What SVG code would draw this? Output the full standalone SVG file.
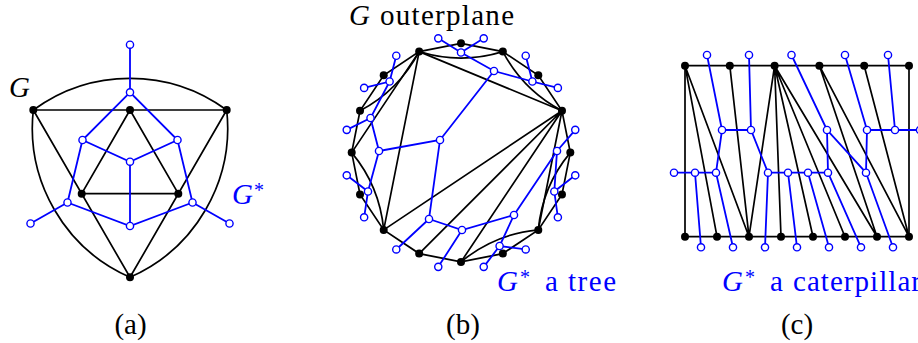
<svg xmlns="http://www.w3.org/2000/svg" width="918" height="343" viewBox="0 0 918 343">
<style>
.e{stroke:#000;stroke-width:1.7;fill:none;stroke-linecap:round}
.d{stroke:#00f;stroke-width:1.8;fill:none;stroke-linecap:round}
.bv{fill:#000}
.wv{fill:#fff;stroke:#00f;stroke-width:1.4}
.t{font-family:"Liberation Serif","Times New Roman",serif;font-size:29px;fill:#000}
.i{font-style:italic}
.b{fill:#00f}
.s{font-size:20px}
</style>
<rect width="918" height="343" fill="#fff"/>

<!-- ===== Panel (a) ===== -->
<g id="a-edges">
<path class="e" d="M33.3 110 A163.3 163.3 0 0 1 226.7 110 A163.3 163.3 0 0 1 130 277.3 A163.3 163.3 0 0 1 33.3 110 Z"/>
<path class="e" d="M33.3 110 H226.7 M33.3 110 L130 277.3 L226.7 110 M130 110 L81.7 193.7 H178.3 Z"/>
<path class="d" d="M130 44.7 V92.3 M130 92.3 L82.5 140 L130 161.7 L177.5 140 Z M130 161.7 V226 M82.5 140 L67.5 202.5 L130 226 L192.5 202.5 L177.5 140 M67.5 202.5 L30.5 223.5 M192.5 202.5 L229.5 223.5"/>
</g>
<g id="a-TL"><circle class="bv" cx="33.3" cy="110" r="4"/></g>
<g id="a-TM"><circle class="bv" cx="130" cy="110" r="4"/></g>
<g id="a-TR"><circle class="bv" cx="226.7" cy="110" r="4"/></g>
<g id="a-IL"><circle class="bv" cx="81.7" cy="193.7" r="4"/></g>
<g id="a-IR"><circle class="bv" cx="178.3" cy="193.7" r="4"/></g>
<g id="a-B"><circle class="bv" cx="130" cy="277.3" r="4"/></g>
<g id="a-d0"><circle class="wv" cx="130" cy="44.7" r="3.6"/></g>
<g id="a-d1"><circle class="wv" cx="130" cy="92.3" r="3.6"/></g>
<g id="a-d2"><circle class="wv" cx="82.5" cy="140" r="3.6"/></g>
<g id="a-d3"><circle class="wv" cx="177.5" cy="140" r="3.6"/></g>
<g id="a-d4"><circle class="wv" cx="130" cy="161.7" r="3.6"/></g>
<g id="a-d5"><circle class="wv" cx="67.5" cy="202.5" r="3.6"/></g>
<g id="a-d6"><circle class="wv" cx="192.5" cy="202.5" r="3.6"/></g>
<g id="a-d7"><circle class="wv" cx="130" cy="226" r="3.6"/></g>
<g id="a-d8"><circle class="wv" cx="30.5" cy="223.5" r="3.6"/></g>
<g id="a-d9"><circle class="wv" cx="229.5" cy="223.5" r="3.6"/></g>
<text class="t i" x="9" y="97">G</text>
<text class="t b" x="232" y="204"><tspan class="i">G</tspan></text>
<text class="t b s" x="254" y="197">*</text>
<text class="t" x="130.5" y="334" text-anchor="middle">(a)</text>

<!-- ===== Panel (b) ===== -->
<g id="b-edges">
<polygon class="e" points="461,43.3 502.83,51.62 538.29,75.31 561.98,110.77 570.3,152.6 561.98,194.43 538.29,229.89 502.83,253.58 461,261.9 419.17,253.58 383.71,229.89 360.02,194.43 351.7,152.6 360.02,110.77 383.71,75.31 419.17,51.62"/>
<path class="e" d="M419.17 51.62 L561.98 110.77 M561.98 110.77 L383.71 229.89 M419.17 51.62 L383.71 229.89 M561.98 110.77 L419.17 253.58 M561.98 110.77 L461 261.9 M561.98 110.77 L538.29 229.89 M419.17 51.62 L351.7 152.6"/>
<path class="e" d="M419.17 51.62 Q461 64.6 502.83 51.62 M502.83 51.62 Q523.23 90.37 561.98 110.77 M570.3 152.6 Q542.3 186.28 538.29 229.89 M538.29 229.89 Q494.68 233.9 461 261.9 M383.71 229.89 Q379.7 186.28 351.7 152.6 M360.02 110.77 Q398.77 90.37 419.17 51.62"/>
<path class="d" d="M461 52.5 L494 71 L532.4 81.5 M494 71 L440 140 L379 151 M440 140 L429 219 L462 230 L514 215 L499.6 246 M514 215 L557 151 L554.3 191.5 M379 151 L370.5 118 L389.6 81.5 M379 151 L368 191.5"/>
<path class="d" d="M438.27 38.34 L461 52.5 L483.73 38.34 M525.72 55.73 L532.4 81.5 L557.87 87.88 M575.26 129.87 L557 151 M575.26 175.33 L554.3 191.5 L557.87 217.32 M525.72 249.47 L499.6 246 L483.73 266.86 M438.27 266.86 L462 230 M396.28 249.47 L429 219 M364.13 217.32 L368 191.5 L346.74 175.33 M346.74 129.87 L370.5 118 M364.13 87.88 L389.6 81.5 L396.28 55.73"/>
</g>
<g id="b-v1"><circle class="bv" cx="461" cy="43.3" r="4"/></g>
<g id="b-v2"><circle class="bv" cx="502.83" cy="51.62" r="4"/></g>
<g id="b-v3"><circle class="bv" cx="538.29" cy="75.31" r="4"/></g>
<g id="b-v4"><circle class="bv" cx="561.98" cy="110.77" r="4"/></g>
<g id="b-v5"><circle class="bv" cx="570.3" cy="152.6" r="4"/></g>
<g id="b-v6"><circle class="bv" cx="561.98" cy="194.43" r="4"/></g>
<g id="b-v7"><circle class="bv" cx="538.29" cy="229.89" r="4"/></g>
<g id="b-v8"><circle class="bv" cx="502.83" cy="253.58" r="4"/></g>
<g id="b-v9"><circle class="bv" cx="461" cy="261.9" r="4"/></g>
<g id="b-v10"><circle class="bv" cx="419.17" cy="253.58" r="4"/></g>
<g id="b-v11"><circle class="bv" cx="383.71" cy="229.89" r="4"/></g>
<g id="b-v12"><circle class="bv" cx="360.02" cy="194.43" r="4"/></g>
<g id="b-v13"><circle class="bv" cx="351.7" cy="152.6" r="4"/></g>
<g id="b-v14"><circle class="bv" cx="360.02" cy="110.77" r="4"/></g>
<g id="b-v15"><circle class="bv" cx="383.71" cy="75.31" r="4"/></g>
<g id="b-v16"><circle class="bv" cx="419.17" cy="51.62" r="4"/></g>
<g id="b-fA"><circle class="wv" cx="461" cy="52.5" r="3.6"/></g>
<g id="b-fB"><circle class="wv" cx="494" cy="71" r="3.6"/></g>
<g id="b-fC"><circle class="wv" cx="532.4" cy="81.5" r="3.6"/></g>
<g id="b-fD"><circle class="wv" cx="557" cy="151" r="3.6"/></g>
<g id="b-fE"><circle class="wv" cx="554.3" cy="191.5" r="3.6"/></g>
<g id="b-fF"><circle class="wv" cx="514" cy="215" r="3.6"/></g>
<g id="b-fG"><circle class="wv" cx="499.6" cy="246" r="3.6"/></g>
<g id="b-fH"><circle class="wv" cx="462" cy="230" r="3.6"/></g>
<g id="b-fI"><circle class="wv" cx="429" cy="219" r="3.6"/></g>
<g id="b-fJ"><circle class="wv" cx="440" cy="140" r="3.6"/></g>
<g id="b-fK"><circle class="wv" cx="379" cy="151" r="3.6"/></g>
<g id="b-fL"><circle class="wv" cx="368" cy="191.5" r="3.6"/></g>
<g id="b-fM"><circle class="wv" cx="370.5" cy="118" r="3.6"/></g>
<g id="b-fN"><circle class="wv" cx="389.6" cy="81.5" r="3.6"/></g>
<g id="b-l1"><circle class="wv" cx="438.27" cy="38.34" r="3.6"/></g>
<g id="b-l2"><circle class="wv" cx="483.73" cy="38.34" r="3.6"/></g>
<g id="b-l3"><circle class="wv" cx="525.72" cy="55.73" r="3.6"/></g>
<g id="b-l4"><circle class="wv" cx="557.87" cy="87.88" r="3.6"/></g>
<g id="b-l5"><circle class="wv" cx="575.26" cy="129.87" r="3.6"/></g>
<g id="b-l6"><circle class="wv" cx="575.26" cy="175.33" r="3.6"/></g>
<g id="b-l7"><circle class="wv" cx="557.87" cy="217.32" r="3.6"/></g>
<g id="b-l8"><circle class="wv" cx="525.72" cy="249.47" r="3.6"/></g>
<g id="b-l9"><circle class="wv" cx="483.73" cy="266.86" r="3.6"/></g>
<g id="b-l10"><circle class="wv" cx="438.27" cy="266.86" r="3.6"/></g>
<g id="b-l11"><circle class="wv" cx="396.28" cy="249.47" r="3.6"/></g>
<g id="b-l12"><circle class="wv" cx="364.13" cy="217.32" r="3.6"/></g>
<g id="b-l13"><circle class="wv" cx="346.74" cy="175.33" r="3.6"/></g>
<g id="b-l14"><circle class="wv" cx="346.74" cy="129.87" r="3.6"/></g>
<g id="b-l15"><circle class="wv" cx="364.13" cy="87.88" r="3.6"/></g>
<g id="b-l16"><circle class="wv" cx="396.28" cy="55.73" r="3.6"/></g>
<text class="t" y="25"><tspan class="i" x="349">G</tspan><tspan x="380" textLength="134" lengthAdjust="spacing">outerplane</tspan></text>
<text class="t b" y="291"><tspan class="i" x="497">G</tspan><tspan x="545">a</tspan><tspan x="568" textLength="48" lengthAdjust="spacing">tree</tspan></text>
<text class="t b s" x="520" y="284">*</text>
<text class="t" x="463" y="334" text-anchor="middle">(b)</text>

<!-- ===== Panel (c) ===== -->
<g id="c-edges">
<path class="e" d="M685 65.7 H909 V236.7 H685 Z"/>
<path class="e" d="M685 65.7 L717 236.7 M685 65.7 L749 236.7 M729.8 65.7 L749 236.7 M774.6 65.7 L749 236.7 M774.6 65.7 L781 236.7 M774.6 65.7 L813 236.7 M774.6 65.7 L845 236.7 M774.6 65.7 L877 236.7 M819.4 65.7 L877 236.7 M819.4 65.7 L909 236.7 M864.2 65.7 L909 236.7"/>
<path class="d" d="M674 172.7 H716 L722 130 H751 L768 172.7 H828 L827 130 L866 172.7 L867 130 H920"/>
<path class="d" d="M707 55 L722 130 M749 55 L751 130 M791.5 55 L827 130 M845 55 L867 130 M888 55 L895 130 M701 247.3 L695 172.7 M733 247.3 L716 172.7 M765 247.3 L768 172.7 M797 247.3 L788 172.7 M829 247.3 L808 172.7 M861 247.3 L828 172.7 M893 247.3 L866 172.7"/>
</g>
<g id="c-T1"><circle class="bv" cx="685" cy="65.7" r="4"/></g>
<g id="c-T2"><circle class="bv" cx="729.8" cy="65.7" r="4"/></g>
<g id="c-T3"><circle class="bv" cx="774.6" cy="65.7" r="4"/></g>
<g id="c-T4"><circle class="bv" cx="819.4" cy="65.7" r="4"/></g>
<g id="c-T5"><circle class="bv" cx="864.2" cy="65.7" r="4"/></g>
<g id="c-T6"><circle class="bv" cx="909" cy="65.7" r="4"/></g>
<g id="c-B1"><circle class="bv" cx="685" cy="236.7" r="4"/></g>
<g id="c-B2"><circle class="bv" cx="717" cy="236.7" r="4"/></g>
<g id="c-B3"><circle class="bv" cx="749" cy="236.7" r="4"/></g>
<g id="c-B4"><circle class="bv" cx="781" cy="236.7" r="4"/></g>
<g id="c-B5"><circle class="bv" cx="813" cy="236.7" r="4"/></g>
<g id="c-B6"><circle class="bv" cx="845" cy="236.7" r="4"/></g>
<g id="c-B7"><circle class="bv" cx="877" cy="236.7" r="4"/></g>
<g id="c-B8"><circle class="bv" cx="909" cy="236.7" r="4"/></g>
<g id="c-lL"><circle class="wv" cx="674" cy="172.7" r="3.6"/></g>
<g id="c-lR"><circle class="wv" cx="920" cy="130" r="3.6"/></g>
<g id="c-s1"><circle class="wv" cx="695" cy="172.7" r="3.6"/></g>
<g id="c-s2"><circle class="wv" cx="716" cy="172.7" r="3.6"/></g>
<g id="c-s3"><circle class="wv" cx="768" cy="172.7" r="3.6"/></g>
<g id="c-s4"><circle class="wv" cx="788" cy="172.7" r="3.6"/></g>
<g id="c-s5"><circle class="wv" cx="808" cy="172.7" r="3.6"/></g>
<g id="c-s6"><circle class="wv" cx="828" cy="172.7" r="3.6"/></g>
<g id="c-s7"><circle class="wv" cx="866" cy="172.7" r="3.6"/></g>
<g id="c-u1"><circle class="wv" cx="722" cy="130" r="3.6"/></g>
<g id="c-u2"><circle class="wv" cx="751" cy="130" r="3.6"/></g>
<g id="c-u3"><circle class="wv" cx="827" cy="130" r="3.6"/></g>
<g id="c-u4"><circle class="wv" cx="867" cy="130" r="3.6"/></g>
<g id="c-u5"><circle class="wv" cx="895" cy="130" r="3.6"/></g>
<g id="c-t1"><circle class="wv" cx="707" cy="55" r="3.6"/></g>
<g id="c-t2"><circle class="wv" cx="749" cy="55" r="3.6"/></g>
<g id="c-t3"><circle class="wv" cx="791.5" cy="55" r="3.6"/></g>
<g id="c-t4"><circle class="wv" cx="845" cy="55" r="3.6"/></g>
<g id="c-t5"><circle class="wv" cx="888" cy="55" r="3.6"/></g>
<g id="c-b1"><circle class="wv" cx="701" cy="247.3" r="3.6"/></g>
<g id="c-b2"><circle class="wv" cx="733" cy="247.3" r="3.6"/></g>
<g id="c-b3"><circle class="wv" cx="765" cy="247.3" r="3.6"/></g>
<g id="c-b4"><circle class="wv" cx="797" cy="247.3" r="3.6"/></g>
<g id="c-b5"><circle class="wv" cx="829" cy="247.3" r="3.6"/></g>
<g id="c-b6"><circle class="wv" cx="861" cy="247.3" r="3.6"/></g>
<g id="c-b7"><circle class="wv" cx="893" cy="247.3" r="3.6"/></g>
<text class="t b" y="291"><tspan class="i" x="722">G</tspan><tspan x="770">a</tspan><tspan x="793" textLength="128" lengthAdjust="spacing">caterpillar</tspan></text>
<text class="t b s" x="745" y="284">*</text>
<text class="t" x="797" y="334" text-anchor="middle">(c)</text>
</svg>
